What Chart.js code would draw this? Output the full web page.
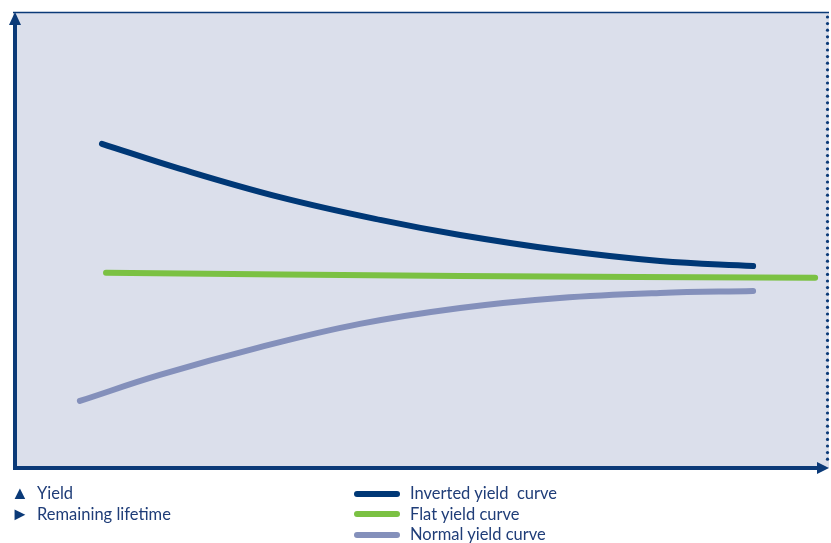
<!DOCTYPE html>
<html>
<head>
<meta charset="utf-8">
<script src="https://cdn.jsdelivr.net/npm/chart.js@4/dist/chart.umd.min.js"></script>
<style>
  html, body { margin: 0; padding: 0; background: #ffffff; }
  #wrap { position: relative; width: 831px; height: 543px; }
  canvas { position: absolute; left: 0; top: 0; }
  .leg { position: absolute; font-family: Lato, "Open Sans", sans-serif; font-size: 16.5px; color: #1f3d78; line-height: 20.5px; white-space: pre; }
  .sw { display: inline-block; width: 46px; height: 6px; border-radius: 3px; vertical-align: middle; margin-right: 10px; position: relative; top: -1px; }
  .tri { display: inline-block; width: 26px; font-size: 18px; line-height: 16px; color: #0b3a78; }
</style>
</head>
<body>
<div id="wrap">
  <canvas id="c" width="831" height="543"></canvas>
  <div id="axisLegend" class="leg" style="left:11px; top:483px;"></div>
  <div id="seriesLegend" class="leg" style="left:354px; top:483px;"></div>
</div>
<script>
// ---- data (x = remaining lifetime, y = yield; arbitrary 0-100 units) ----
const seriesNames = ["Inverted yield  curve", "Flat yield curve", "Normal yield curve"];
const seriesColors = ["#003876", "#7bc143", "#8490bb"];
const axisLabels = ["Yield", "Remaining lifetime"];
const axisSymbols = ["\u25B2", "\u25BA"];

const invertedX = [10.9, 20.5, 32.7, 45.0, 54.8, 67.0, 79.3, 90.7];
const invertedY = [71.1, 65.6, 59.4, 54.4, 51.1, 47.8, 45.4, 44.3];

const flatX = [11.4, 54.8, 98.3];
const flatY = [42.8, 42.1, 41.7];

const normalX = [8.2, 18.0, 30.3, 42.5, 54.8, 67.0, 79.3, 90.7];
const normalY = [14.7, 20.4, 26.5, 31.6, 35.1, 37.3, 38.4, 38.8];

function pts(xs, ys) { return xs.map((x, i) => ({ x: x, y: ys[i] })); }

const axisPlugin = {
  id: 'axisPlugin',
  beforeDraw(chart) {
    const { ctx, chartArea: a } = chart;
    ctx.save();
    ctx.fillStyle = '#dbdfeb';
    ctx.fillRect(a.left, a.top, a.right - a.left, a.bottom - a.top);
    ctx.restore();
  },
  afterDraw(chart) {
    const { ctx, chartArea: a } = chart;
    const c = '#0b3a78';
    ctx.save();
    // top border
    ctx.strokeStyle = c; ctx.lineWidth = 1.5;
    ctx.beginPath(); ctx.moveTo(a.left, a.top + 0.5); ctx.lineTo(a.right, a.top + 0.5); ctx.stroke();
    // right dotted border
    ctx.fillStyle = c;
    for (let y = a.top + 5; y < a.bottom - 4; y += 6.6) {
      ctx.beginPath(); ctx.arc(a.right - 1.5, y, 1.6, 0, Math.PI * 2); ctx.fill();
    }
    // y axis (thick) with arrow
    ctx.lineWidth = 4;
    ctx.beginPath(); ctx.moveTo(a.left + 2, a.bottom + 2); ctx.lineTo(a.left + 2, a.top + 10); ctx.stroke();
    ctx.beginPath();
    ctx.moveTo(a.left + 2, a.top); ctx.lineTo(a.left - 4, a.top + 13); ctx.lineTo(a.left + 8, a.top + 13); ctx.closePath(); ctx.fill();
    // x axis (thick) with arrow
    ctx.beginPath(); ctx.moveTo(a.left, a.bottom); ctx.lineTo(a.right - 10, a.bottom); ctx.stroke();
    ctx.beginPath();
    ctx.moveTo(a.right, a.bottom); ctx.lineTo(a.right - 12, a.bottom - 6); ctx.lineTo(a.right - 12, a.bottom + 6); ctx.closePath(); ctx.fill();
    ctx.restore();
  }
};

const xsets = [invertedX, flatX, normalX];
const ysets = [invertedY, flatY, normalY];

new Chart(document.getElementById('c'), {
  type: 'line',
  data: {
    datasets: seriesNames.map((n, i) => ({
      label: n,
      data: pts(xsets[i], ysets[i]),
      borderColor: seriesColors[i],
      backgroundColor: seriesColors[i],
      borderWidth: 6,
      borderCapStyle: 'round',
      borderJoinStyle: 'round',
      pointRadius: 0,
      tension: 0.4,
      fill: false
    }))
  },
  options: {
    responsive: false,
    animation: false,
    events: [],
    layout: { padding: { left: 13, top: 12, right: 2, bottom: 75 } },
    plugins: { legend: { display: false }, tooltip: { enabled: false } },
    scales: {
      x: { type: 'linear', min: 0, max: 100, display: false },
      y: { type: 'linear', min: 0, max: 100, display: false }
    }
  },
  plugins: [axisPlugin]
});

document.getElementById('axisLegend').innerHTML = axisLabels.map((t, i) =>
  '<div><span class="tri">' + axisSymbols[i] + '</span>' + t + '</div>').join('');
document.getElementById('seriesLegend').innerHTML = seriesNames.map((t, i) =>
  '<div><span class="sw" style="background:' + seriesColors[i] + '"></span>' + t + '</div>').join('');
</script>
</body>
</html>
